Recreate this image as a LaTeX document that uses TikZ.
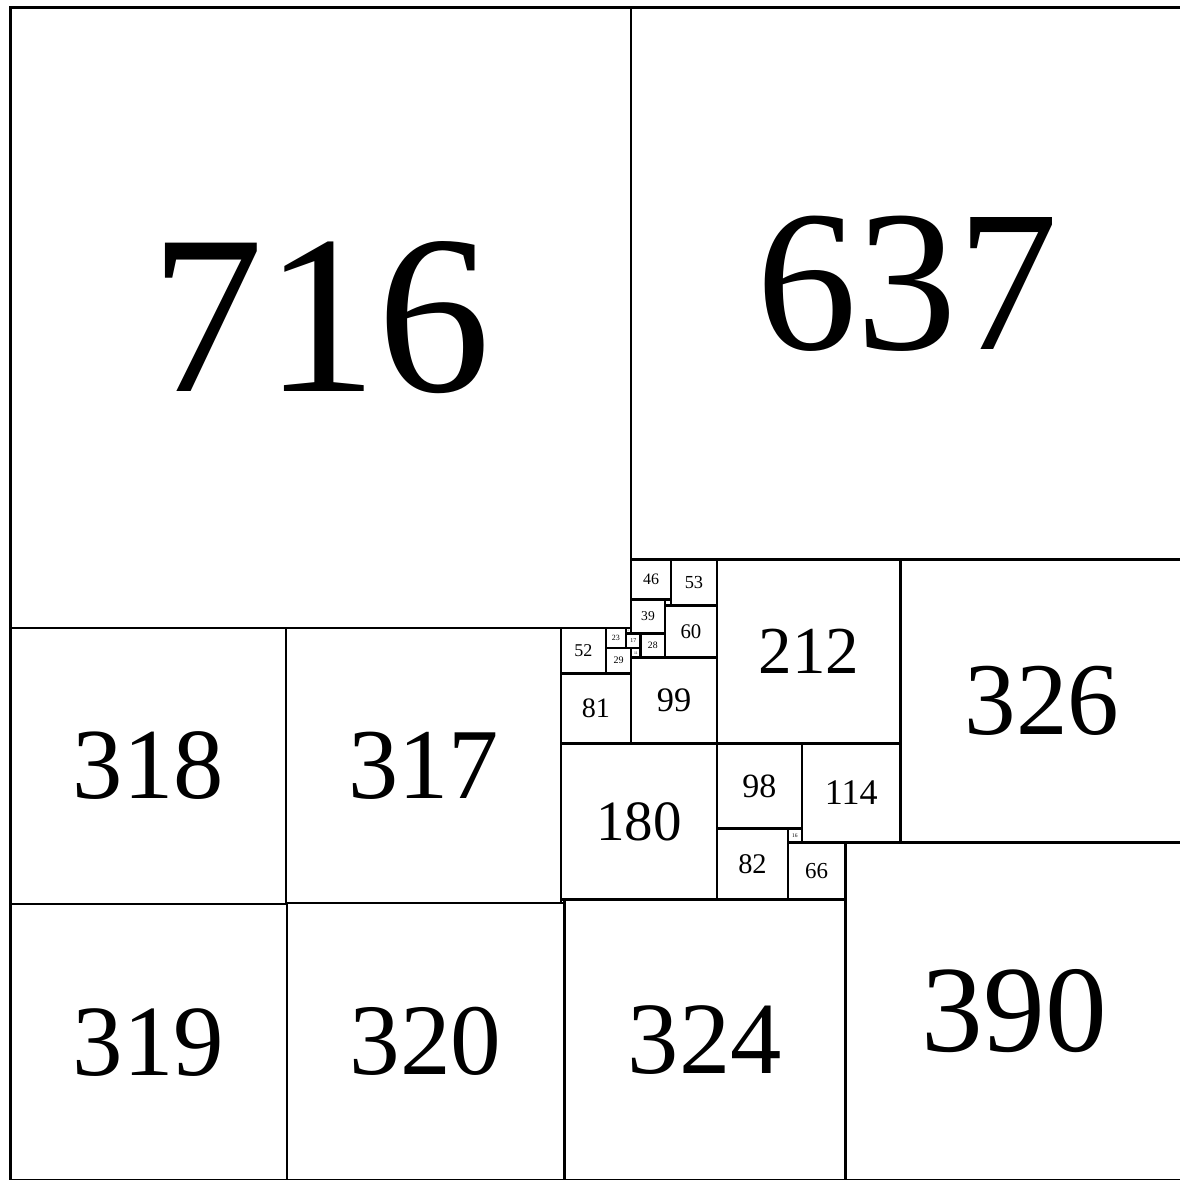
\documentclass[tikz,border=0pt]{standalone}
\usepackage{fontspec}
\setmainfont{Liberation Serif}
\tikzset{sq/.style={draw=black, line width=3pt, anchor=north west, inner sep=0pt, fill=none}}
\newcommand\sqr[3]{%
  \pgfmathsetmacro\fs{#3*(#3<100 ? 0.4 : 0.365)}%
  \node[sq, minimum size=#3pt, font=\fontsize{\fs pt}{\fs pt}\selectfont] (s#3) at (#1,-#2) {#3};}
\begin{document}
\begin{tikzpicture}[x=1pt,y=-1pt]
\useasboundingbox (-10.4,-7) rectangle (1350.6,1354);
\clip (-10.4,-7) rectangle (1350.6,1354);
\fill[white] (-10.4,-7) rectangle (1350.6,1354);
\begin{scope}[y=1pt]
\sqr{0}{0}{716}
\sqr{716}{0}{637}
\sqr{0}{716}{318}
\sqr{318}{716}{317}
\sqr{0}{1034}{319}
\sqr{319}{1033}{320}
\sqr{639}{1029}{324}
\sqr{963}{963}{390}
\sqr{1027}{637}{326}
\sqr{815}{637}{212}
\sqr{913}{849}{114}
\sqr{815}{849}{98}
\sqr{815}{947}{82}
\sqr{897}{963}{66}
\sqr{897}{947}{16}
\sqr{635}{849}{180}
\sqr{716}{750}{99}
\sqr{635}{768}{81}
\sqr{635}{716}{52}
\sqr{762}{637}{53}
\sqr{716}{637}{46}
\sqr{755}{690}{60}
\sqr{716}{683}{39}
\sqr{727}{722}{28}
\sqr{687}{716}{23}
\sqr{687}{739}{29}
\sqr{710}{722}{17}
\sqr{716}{739}{11}
\sqr{710}{716}{6}
\end{scope}
\end{tikzpicture}
\end{document}
